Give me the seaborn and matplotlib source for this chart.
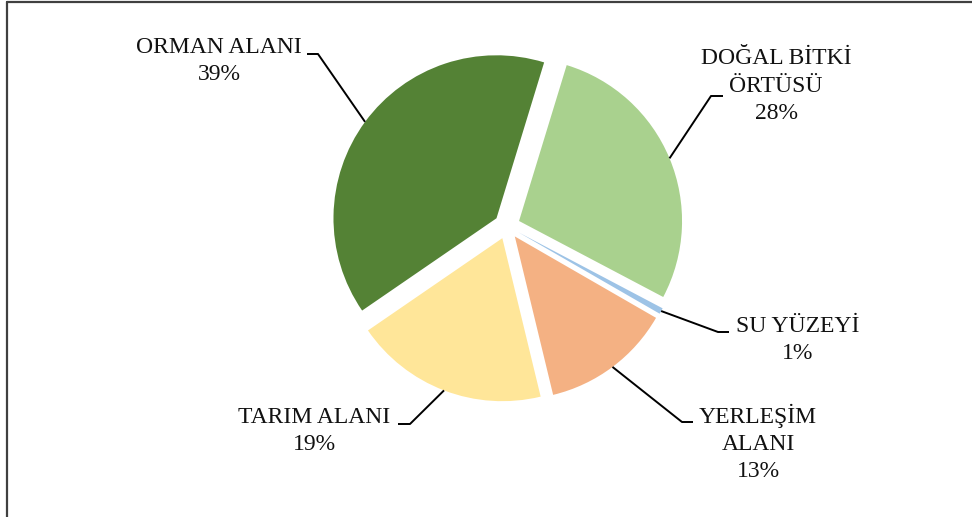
import matplotlib
matplotlib.use("Agg")
import matplotlib.pyplot as plt
import numpy as np
import seaborn as sns
from matplotlib.lines import Line2D

# ── Data ──────────────────────────────────────────────────────────────────────
categories = ["DOĞAL BİTKİ\nÖRTÜSÜ", "SU YÜZEYİ", "YERLEŞİM\nALANI",
              "TARIM ALANI", "ORMAN ALANI"]
shares = [28.0, 0.6, 12.9, 19.2, 39.3]
colors = ["#A9D18E", "#9DC3E6", "#F4B183", "#FFE699", "#548235"]

# ── Layout (pixel geometry of the reference, 972x517) ─────────────────────────
W, H = 972, 517
CX, CY, R = 507, 226, 163          # pie centre + radius in px


def px(x, y):
    return (x - CX) / R, (CY - y) / R


# text centre, shelf start (text side), shelf elbow   -- all in px
label_layout = [
    ((776, 86), (723, 96), (711, 96)),
    ((798, 340), (729, 332), (718, 332)),
    ((758, 443), (693, 422), (682, 422)),
    ((314, 431), (398, 424), (410, 424)),
    ((219, 61), (307, 54), (318, 54)),
]

# ── Style ─────────────────────────────────────────────────────────────────────
sns.set_theme(style="white")
plt.rcParams["font.family"] = ["Liberation Serif", "DejaVu Serif"]
TEXT_COLOR = "#111111"

fig = plt.figure(figsize=(W / 100, H / 100), dpi=100)
ax = fig.add_axes([0, 0, 1, 1])

wedges, _ = ax.pie(
    shares, colors=sns.color_palette(colors), startangle=73, counterclock=False,
    radius=1, explode=[0.08] * len(shares),
    wedgeprops=dict(linewidth=0),
)

total = sum(shares)
for w, name, val, (txt, shelf, elbow) in zip(wedges, categories, shares, label_layout):
    mid = np.deg2rad((w.theta1 + w.theta2) / 2)
    ax_x = w.center[0] + w.r * np.cos(mid)
    ax_y = w.center[1] + w.r * np.sin(mid)
    sx, sy = px(*shelf)
    ex, ey = px(*elbow)
    ax.plot([ax_x, ex, sx], [ax_y, ey, sy], color="black", lw=1.4,
            solid_capstyle="butt")
    tx, ty = px(*txt)
    ax.text(tx, ty, f"{name}\n{val / total * 100:.0f}%", ha="center", va="center",
            fontsize=17, color=TEXT_COLOR, linespacing=1.4)

ax.set_xlim(-CX / R, (W - CX) / R)
ax.set_ylim((CY - H) / R, CY / R)
ax.set_aspect("auto")
ax.axis("off")

# chart frame (only left and top edges fall inside the crop)
fig.add_artist(Line2D([7 / W, 7 / W], [0, 1 - 1.5 / H], color="#404040", lw=1.6,
                      transform=fig.transFigure))
fig.add_artist(Line2D([7 / W, 1], [1 - 1.5 / H, 1 - 1.5 / H], color="#404040",
                      lw=1.6, transform=fig.transFigure))

fig.savefig("out.png", dpi=100)
plt.close(fig)
